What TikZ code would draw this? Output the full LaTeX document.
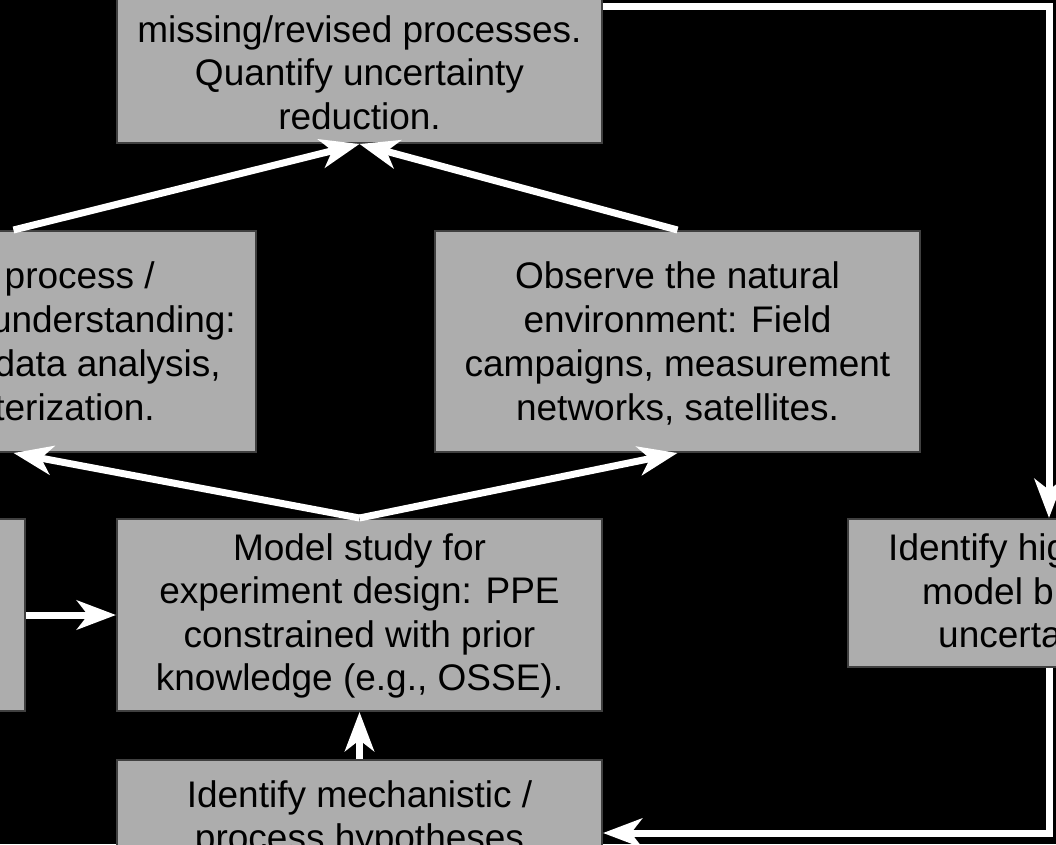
\documentclass[tikz,border=0pt]{standalone}
\usepackage{fontspec}
\setmainfont{Liberation Sans}
\usetikzlibrary{arrows.meta}
\definecolor{boxgray}{HTML}{ADADAD}
\definecolor{edgegray}{HTML}{404040}
\begin{document}
\begin{tikzpicture}[x=1pt,y=-1pt,
  box/.style={draw=edgegray,line width=2pt,fill=boxgray,rectangle,inner sep=0pt},
  txt/.style={inner sep=0pt,font=\fontsize{37}{43.5}\selectfont,text=black},
  conn/.style={draw=white,line width=7pt,-{Stealth[length=39pt,width=29pt,inset=11pt]}},
  ]
\fill[black] (0,0) rectangle (1056,844);
\useasboundingbox (0,0) rectangle (1056,844);
\clip (0,0) rectangle (1056,844);

% boxes
\node[box,minimum width=485pt,minimum height=243pt] (top) at (359.5,21.5) {};
\node[box,minimum width=485pt,minimum height=221pt] (left) at (13.5,341.5) {};
\node[box,minimum width=485pt,minimum height=221pt] (obs) at (677.5,341.5) {};
\node[box,minimum width=485pt,minimum height=192pt] (far) at (-217.5,615) {};
\node[box,minimum width=485pt,minimum height=192pt] (model) at (359.5,615) {};
\node[box,minimum width=485pt,minimum height=148pt] (ident) at (1090.5,593) {};
\node[box,minimum width=485pt,minimum height=240pt] (bot) at (359.5,880) {};

% texts
\node[txt,anchor=base] (t1) at (359.5,42) {missing/revised processes.};
\node[txt,anchor=base] (t2) at (359.5,85.5) {Quantify uncertainty};
\node[txt,anchor=base] (t3) at (359.5,129) {reduction.};

\node[txt,anchor=base east] (l1) at (155,288) {process /};
\node[txt,anchor=base east] (l2) at (236,332) {understanding:};
\node[txt,anchor=base east] (l3) at (221,376) {data analysis,};
\node[txt,anchor=base east] (l4) at (155,420) {terization.};

\node[txt,anchor=base] (o1) at (677.5,288) {Observe the natural};
\node[txt,anchor=base] (o2) at (677.5,332) {environment: Field};
\node[txt,anchor=base] (o3) at (677.5,376) {campaigns, measurement};
\node[txt,anchor=base] (o4) at (677.5,420) {networks, satellites.};

\node[txt,anchor=base] (m1) at (359.5,560) {Model study for};
\node[txt,anchor=base] (m2) at (359.5,603.5) {experiment design: PPE};
\node[txt,anchor=base] (m3) at (359.5,647) {constrained with prior};
\node[txt,anchor=base] (m4) at (359.5,690.5) {knowledge (e.g., OSSE).};

\node[txt,anchor=base west] (i1) at (888,560) {Identify hig};
\node[txt,anchor=base west] (i2) at (922,604) {model bi};
\node[txt,anchor=base west] (i3) at (938,647) {uncerta};

\node[txt,anchor=base] (b1) at (359.5,807) {Identify mechanistic /};
\node[txt,anchor=base] (b2) at (359.5,850.5) {process hypotheses};

% connectors
\coordinate (tr) at (1049,6);
\coordinate (br) at (1049,833);
\draw[conn] (top.east |- tr) -- (tr) -- (tr |- ident.north);
\draw[conn] (tr |- ident.south) -- (br) -- (bot.east |- br);
\draw[conn] (bot.north) -- (model.south);
\draw[conn] (far.east) -- (model.west);
\draw[conn] (model.north) -- (left.south);
\draw[conn] (model.north) -- (obs.south);
\draw[conn] (left.north) -- (top.south);
\draw[conn] (obs.north) -- (top.south);
\end{tikzpicture}
\end{document}
